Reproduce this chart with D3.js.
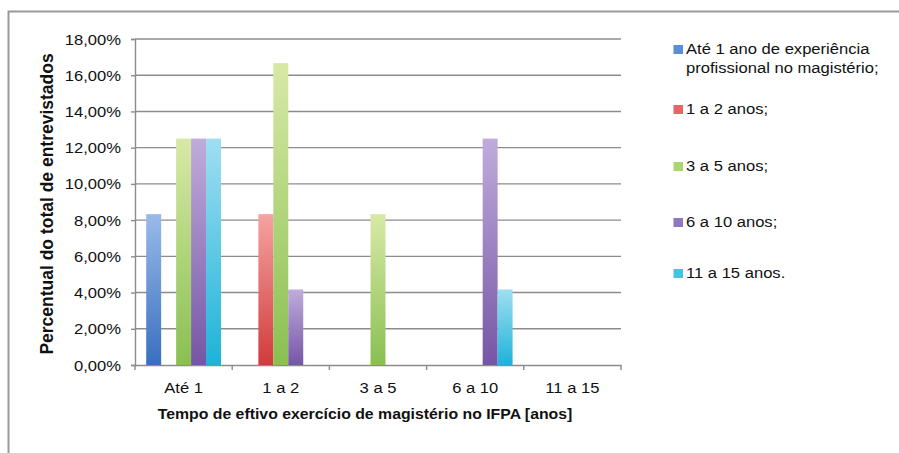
<!DOCTYPE html>
<html>
<head>
<meta charset="utf-8">
<script src="https://cdn.jsdelivr.net/npm/d3@7"></script>
<style>
  html, body { margin: 0; padding: 0; background: #ffffff; }
  svg { display: block; }
  text { font-family: "Liberation Sans", Arial, Helvetica, sans-serif; fill: #111111; }
</style>
</head>
<body>
<svg id="chart" width="899" height="453"></svg>
<script>
// Categories on the x axis (years of effective teaching at IFPA)
const categories = ["Até 1", "1 a 2", "3 a 5", "6 a 10", "11 a 15"];

// Series: prior teaching experience groups (legend labels, may span two lines)
const seriesLabels = [
  ["Até 1 ano de experiência", "profissional no magistério;"],
  ["1 a 2 anos;"],
  ["3 a 5 anos;"],
  ["6 a 10 anos;"],
  ["11 a 15 anos."]
];

// Percent of interviewees, one array per series, indexed by category
const serieAte1  = [8.33, 0,     0,    0,     0];
const serie1a2   = [0,    8.33,  0,    0,     0];
const serie3a5   = [12.5, 16.67, 8.33, 0,     0];
const serie6a10  = [12.5, 4.17,  0,    12.5,  0];
const serie11a15 = [12.5, 0,     0,    4.17,  0];
const seriesValues = [serieAte1, serie1a2, serie3a5, serie6a10, serie11a15];

// Y axis tick values (percent)
const yTicks = [0, 2, 4, 6, 8, 10, 12, 14, 16, 18];

const yTitle = "Percentual do total de entrevistados";
const xTitle = "Tempo de eftivo exercício de magistério no IFPA [anos]";

// Gradient stops per series (top, bottom) and legend swatch colours
const gradTop    = ["#98bbe8", "#f5a3a2", "#d8e9a6", "#c0acdb", "#a0def2"];
const gradBottom = ["#3a6ebe", "#d13b3b", "#89c052", "#7556a6", "#1db3d8"];
const swatch     = ["#5a8fd8", "#e86466", "#aad56f", "#9077c0", "#45c3e5"];

const svg = d3.select("#chart");
const SX = 1.07; // slight horizontal stretch applied to all lettering

function addText(parent, x, y, str, o = {}) {
  return parent.append("text")
    .attr("transform", `translate(${x},${y}) scale(${SX},1)` + (o.rotate ? ` rotate(${o.rotate})` : ""))
    .attr("text-anchor", o.anchor || "start")
    .style("font-size", (o.size || 15.5) + "px")
    .style("font-weight", o.weight || "normal")
    .text(str);
}

// Outer frame (left and top edges)
svg.append("path")
  .attr("d", "M8.5,453 L8.5,11.5 L899,11.5")
  .attr("fill", "none").attr("stroke", "#9a9a9a").attr("stroke-width", 2);

const plot = { left: 135, right: 621, top: 39, bottom: 365 };

const x0 = d3.scaleBand().domain(categories).range([plot.left, plot.right]).padding(0);
const x1 = d3.scaleBand().domain(d3.range(seriesValues.length))
  .range([0, x0.bandwidth()]).paddingInner(0).paddingOuter(0.75);
const y = d3.scaleLinear().domain([0, 18]).range([plot.bottom, plot.top]);

const ptBR = d3.formatLocale({ decimal: ",", thousands: ".", grouping: [3], currency: ["R$", ""] });
const fmt = ptBR.format(".2f");

// Gradients
const defs = svg.append("defs");
seriesValues.forEach((_, i) => {
  const g = defs.append("linearGradient").attr("id", "grad" + i)
    .attr("x1", 0).attr("y1", 0).attr("x2", 0).attr("y2", 1);
  g.append("stop").attr("offset", "0%").attr("stop-color", gradTop[i]);
  g.append("stop").attr("offset", "100%").attr("stop-color", gradBottom[i]);
});

// Horizontal gridlines
svg.append("g").selectAll("line")
  .data(yTicks.filter(d => d > 0))
  .join("line")
  .attr("x1", plot.left).attr("x2", plot.right)
  .attr("y1", d => y(d)).attr("y2", d => y(d))
  .attr("stroke", "#8c8c8c").attr("stroke-width", 1.4);

// Y axis
const yAxis = svg.append("g").attr("transform", `translate(${plot.left},0)`)
  .call(d3.axisLeft(y).tickValues(yTicks).tickSize(4).tickFormat(d => ""));
yAxis.select(".domain").attr("stroke", "#8c8c8c").attr("stroke-width", 1.4);
yAxis.selectAll(".tick line").attr("stroke", "#8c8c8c").attr("stroke-width", 1.4);
yTicks.forEach(d => addText(svg, 121, y(d) + 5.5, fmt(d) + "%", { anchor: "end" }));

// X axis
const xAxis = svg.append("g").attr("transform", `translate(0,${plot.bottom})`)
  .call(d3.axisBottom(x0).tickSize(0).tickFormat(""));
xAxis.select(".domain").attr("stroke", "#8c8c8c").attr("stroke-width", 1.4);
xAxis.selectAll(".tick").remove();
svg.append("g").selectAll("line")
  .data(categories.map(c => x0(c)).concat([x0.range()[1]]))
  .join("line")
  .attr("x1", d => d).attr("x2", d => d)
  .attr("y1", plot.bottom).attr("y2", plot.bottom + 5)
  .attr("stroke", "#8c8c8c").attr("stroke-width", 1.4);
categories.forEach(c => addText(svg, x0(c) + x0.bandwidth() / 2, 393, c, { anchor: "middle" }));

// Bars
const groups = svg.append("g").selectAll("g")
  .data(categories)
  .join("g")
  .attr("transform", c => `translate(${x0(c)},0)`);
groups.selectAll("rect")
  .data((c, ci) => seriesValues.map((vals, si) => ({ si, v: vals[ci] })).filter(d => d.v > 0))
  .join("rect")
  .attr("x", d => x1(d.si))
  .attr("width", x1.bandwidth())
  .attr("y", d => y(d.v))
  .attr("height", d => y(0) - y(d.v))
  .attr("fill", d => `url(#grad${d.si})`);

// Axis titles
addText(svg, 53, 204, yTitle, { anchor: "middle", size: 17.5, weight: "bold", rotate: -90 });
addText(svg, 365, 419, xTitle, { anchor: "middle", size: 14.8, weight: "bold" });

// Legend
const legendBaselines = [[54, 73], [114], [171], [227], [278]];
seriesLabels.forEach((lines, i) => {
  const b = legendBaselines[i];
  svg.append("rect")
    .attr("x", 673.5).attr("y", b[0] - 9).attr("width", 9.5).attr("height", 9)
    .attr("fill", swatch[i]);
  lines.forEach((ln, k) => addText(svg, 686, b[k], ln));
});
</script>
</body>
</html>
